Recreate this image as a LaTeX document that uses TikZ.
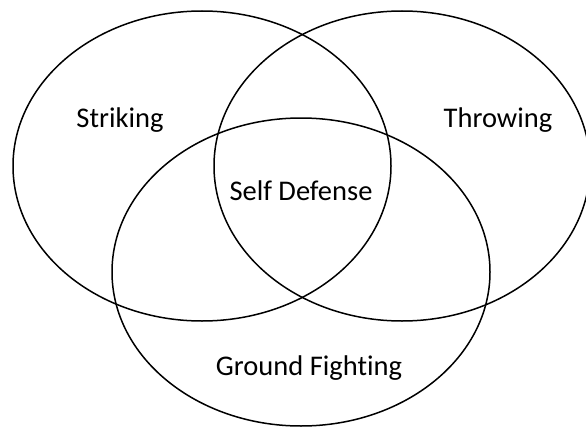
\documentclass[tikz,border=0pt]{standalone}
\usepackage{fontspec}
\setmainfont{Carlito}[Ligatures={NoCommon,NoContextual}]
\begin{document}
\begin{tikzpicture}[x=1pt,y=-1pt,
  setring/.style={draw=black,line width=1.5pt},
  setlabel/.style={anchor=base,inner sep=0pt,font=\fontsize{28.5}{34}\selectfont}]
\useasboundingbox (0,0) rectangle (586,428);
% three overlapping sets
\draw[setring] (202,166) ellipse [x radius=189pt, y radius=155pt];
\draw[setring] (402,166) ellipse [x radius=188pt, y radius=155pt];
\draw[setring] (301,272) ellipse [x radius=189pt, y radius=154pt];
% labels
\node[setlabel] (striking) at (120,127) {Striking};
\node[setlabel] (throwing) at (498,127) {Throwing};
\node[setlabel] (selfdef) at (301,200) {Self Defense};
\node[setlabel] (ground) at (309,375) {Ground Fighting};
\end{tikzpicture}
\end{document}
